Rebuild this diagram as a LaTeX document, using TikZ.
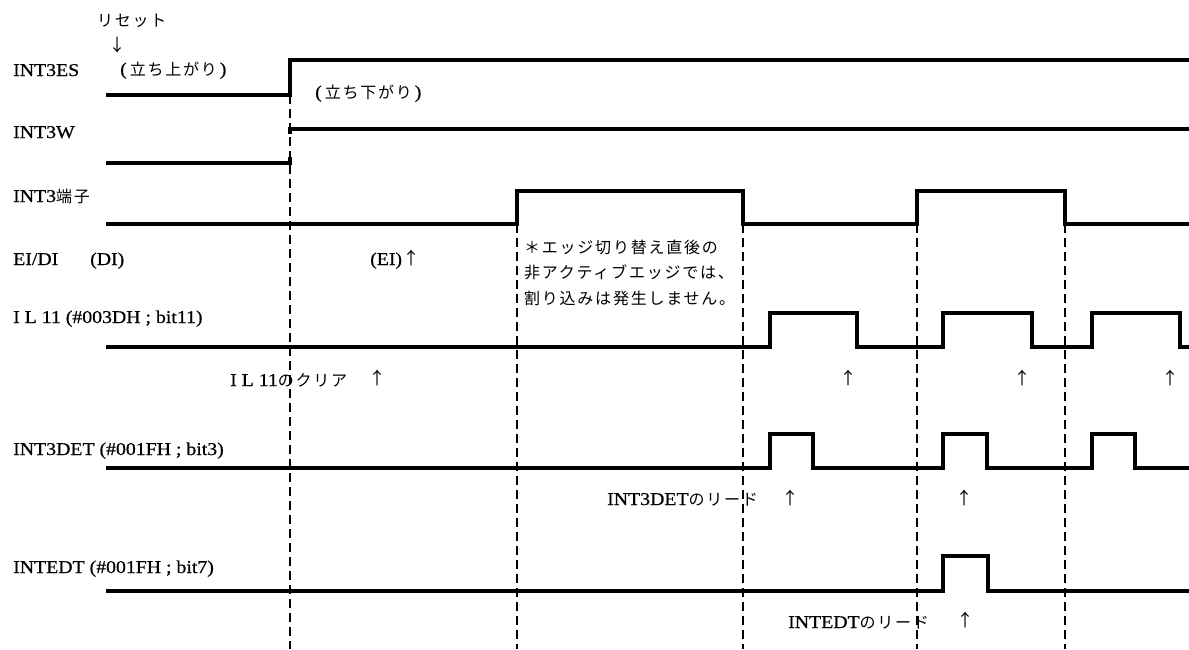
\documentclass[tikz,border=0pt]{standalone}
\usepackage{fontspec}
\setmainfont[FakeStretch=1.1,FakeBold=0.6]{Liberation Serif}
\newfontfamily\jp[LetterSpace=11]{Noto Sans CJK JP}
\newfontfamily\jparrow{Noto Sans CJK JP}
\newcommand{\jpt}[1]{{\jp\fontsize{16}{18}\selectfont #1}}
\begin{document}
\begin{tikzpicture}[x=1pt,y=-1pt,
  wave/.style={line width=3.2pt, line join=miter, line cap=butt},
  guide/.style={line width=1.6pt, dash pattern=on 9pt off 5pt},
  lbl/.style={anchor=base west, inner sep=0pt, font=\fontsize{18}{20}\selectfont},
  jlbl/.style={anchor=west, inner sep=0pt, font=\fontsize{16}{18}\selectfont\jp},
  arr/.style={inner sep=0pt, font=\fontsize{17}{18}\selectfont\jparrow}]
\useasboundingbox (0,0) rectangle (1189,649);
\fill[white] (0,0) rectangle (1189,649);

% guide lines
\draw[guide] (290,95) -- (290,649);
\foreach \gx in {517,743,917,1065} \draw[guide] (\gx,224) -- (\gx,649);

% waveforms
\draw[wave] (106,95) -- (290,95) -- (290,60) -- (1189,60);
\draw[wave] (106,163) -- (290,163) -- (290,157);
\draw[wave] (290,134) -- (290,129) -- (1189,129);
\draw[wave] (106,224) -- (517,224) -- (517,191) -- (743,191) -- (743,224) -- (917,224) -- (917,191) -- (1065,191) -- (1065,224) -- (1189,224);
\draw[wave] (106,347) -- (770,347) -- (770,313) -- (857,313) -- (857,347) -- (943,347) -- (943,313) -- (1032,313) -- (1032,347) -- (1092,347) -- (1092,313) -- (1180,313) -- (1180,347) -- (1189,347);
\draw[wave] (106,468) -- (770,468) -- (770,434) -- (813,434) -- (813,468) -- (943,468) -- (943,434) -- (987,434) -- (987,468) -- (1092,468) -- (1092,434) -- (1135,434) -- (1135,468) -- (1189,468);
\draw[wave] (106,591) -- (943,591) -- (943,556) -- (988,556) -- (988,591) -- (1189,591);

% signal labels
\node[lbl] (lint3es) at (13,76) {INT3ES};
\node[lbl] (lint3w) at (13,138) {INT3W};
\node[lbl] (lint3p) at (13,202) {INT3\jpt{端子}};
\node[lbl] (leidi) at (13,265) {EI/DI};
\node[lbl] (ldi) at (90,265) {(DI)};
\node[lbl] (lil11) at (13,323) {I L 11 (\#003DH ; bit11)};
\node[lbl] (lint3det) at (13,455) {INT3DET (\#001FH ; bit3)};
\node[lbl] (lintedt) at (13,573) {INTEDT (\#001FH ; bit7)};

% annotations
\node[jlbl] (reset) at (97,21) {リセット};
\node[arr] (resetarr) at (117,45) {↓};
\node[lbl] (rise) at (120,75) {(\,\jpt{立ち上がり}\,)};
\node[lbl] (fall) at (315,98) {(\,\jpt{立ち下がり}\,)};
\node[lbl] (ei) at (370,265) {(EI)};
\node[arr] (eiarr) at (411,258) {↑};
\node[jlbl] (note1) at (524,247) {＊エッジ切り替え直後の};
\node[jlbl] (note2) at (524,272.5) {非アクティブエッジでは、};
\node[jlbl] (note3) at (524,298) {割り込みは発生しません。};
\node[lbl] (clr) at (230,386) {I L 11\jpt{のクリア}};
\node[arr] (clra) at (377,378) {↑};
\node[arr] (a1) at (848,378) {↑};
\node[arr] (a2) at (1022,378) {↑};
\node[arr] (a3) at (1170,378) {↑};
\node[lbl] (rd1) at (607,505) {INT3DET\jpt{のリード}};
\node[arr] (rd1a) at (790,498) {↑};
\node[arr] (rd1b) at (964,498) {↑};
\node[lbl] (rd2) at (788,628) {INTEDT\jpt{のリード}};
\node[arr] (rd2a) at (965,620) {↑};
\end{tikzpicture}
\end{document}
